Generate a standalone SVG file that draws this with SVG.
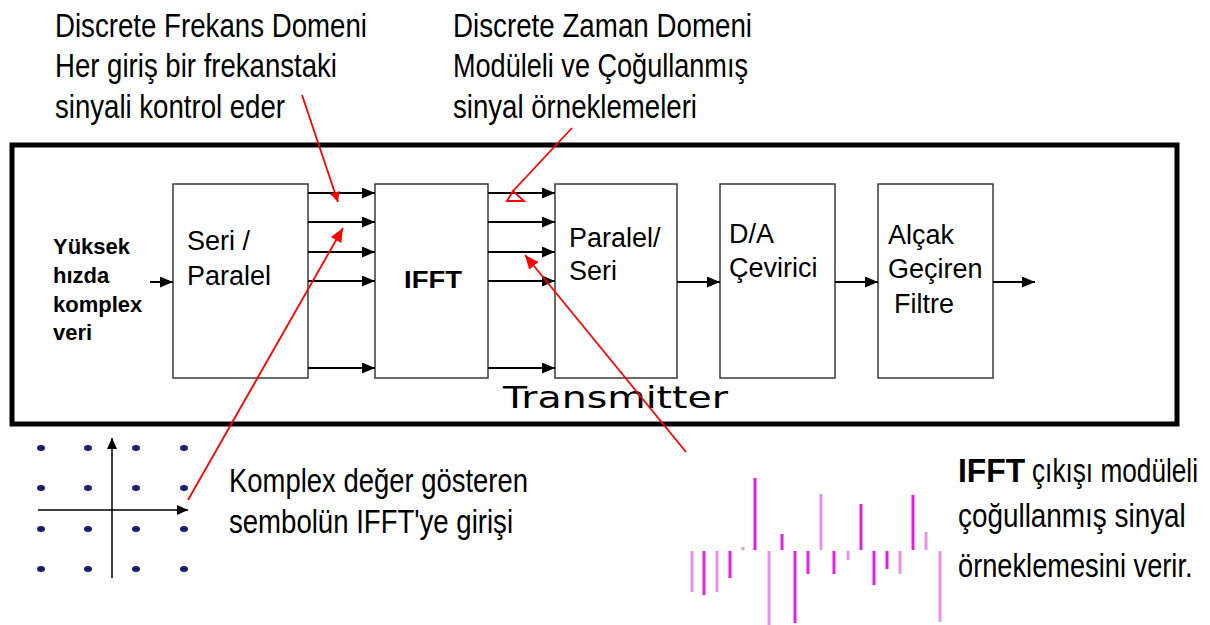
<svg xmlns="http://www.w3.org/2000/svg" width="1210" height="625" viewBox="0 0 1210 625">
<style>
  .frame{fill:none;stroke:#000;stroke-width:5}
  .box{fill:#fff;stroke:#3a3a3a;stroke-width:1.5}
  .lbl{font-family:"Liberation Sans",Arial,sans-serif;font-size:27px;fill:#000}
  .bold{font-weight:bold}
  .cap{font-family:"Liberation Sans",Arial,sans-serif;font-size:34px;fill:#000}
  .cap2{font-family:"Liberation Sans",Arial,sans-serif;font-size:33px;fill:#000}
  .in{font-family:"Liberation Sans",Arial,sans-serif;font-size:22px;font-weight:bold;fill:#000}
  .tx{font-family:"DejaVu Sans","Liberation Sans",sans-serif;font-size:31px;fill:#000}
  .wire{stroke:#000;stroke-width:2;fill:none;marker-end:url(#ah)}
  .axis{stroke:#000;stroke-width:1.5;fill:none;marker-end:url(#ahs)}
  .red{stroke:#f00;stroke-width:1.8;fill:none}
  .dot{fill:#1c1c6e}
  .m1{stroke:#e020e0;stroke-width:3}
  .m2{stroke:#e890e8;stroke-width:3}
</style>
<defs>
  <marker id="ah" markerUnits="userSpaceOnUse" markerWidth="13" markerHeight="11" refX="13" refY="5.5" orient="auto">
    <path d="M0,0 L13,5.5 L0,11 z" fill="#000"/>
  </marker>
  <marker id="ahs" markerUnits="userSpaceOnUse" markerWidth="11" markerHeight="10" refX="11" refY="5" orient="auto">
    <path d="M0,0 L11,5 L0,10 z" fill="#000"/>
  </marker>
  <marker id="ahr" markerUnits="userSpaceOnUse" markerWidth="14" markerHeight="12" refX="14" refY="6" orient="auto">
    <path d="M0,0 L14,6 L0,12 z" fill="#f00"/>
  </marker>
  <marker id="ahr2" markerUnits="userSpaceOnUse" markerWidth="10" markerHeight="10" refX="10" refY="5" orient="auto">
    <path d="M0,0 L10,5 L0,10 z" fill="#f00"/>
  </marker>
</defs>
<rect width="1210" height="625" fill="#fff"/>

<!-- annotation texts -->
<g id="note-freq">
  <text class="cap" x="55" y="37" textLength="312" lengthAdjust="spacingAndGlyphs">Discrete Frekans Domeni</text>
  <text class="cap" x="55" y="77" textLength="282" lengthAdjust="spacingAndGlyphs">Her giriş bir frekanstaki</text>
  <text class="cap" x="55" y="118" textLength="230" lengthAdjust="spacingAndGlyphs">sinyali kontrol eder</text>
</g>
<g id="note-time">
  <text class="cap" x="453" y="37" textLength="299" lengthAdjust="spacingAndGlyphs">Discrete Zaman Domeni</text>
  <text class="cap" x="453" y="77" textLength="295" lengthAdjust="spacingAndGlyphs">Modüleli ve Çoğullanmış</text>
  <text class="cap" x="453" y="118" textLength="244" lengthAdjust="spacingAndGlyphs">sinyal örneklemeleri</text>
</g>

<!-- transmitter frame -->
<g id="transmitter">
  <rect class="frame" x="12" y="145" width="1165" height="279"/>
  <text class="tx" x="503" y="408" textLength="225" lengthAdjust="spacingAndGlyphs">Transmitter</text>
</g>

<g id="input-label">
  <text class="in" x="53" y="254">Yüksek</text>
  <text class="in" x="53" y="283">hızda</text>
  <text class="in" x="53" y="312">komplex</text>
  <text class="in" x="53" y="340">veri</text>
</g>

<g id="seri-paralel">
  <rect class="box" x="173" y="184" width="135" height="194"/>
  <text class="lbl" x="187" y="250">Seri /</text>
  <text class="lbl" x="187" y="285">Paralel</text>
</g>
<g id="ifft">
  <rect class="box" x="375" y="184" width="113" height="194"/>
  <text class="lbl bold" x="404" y="288" style="font-size:23px" textLength="58" lengthAdjust="spacingAndGlyphs">IFFT</text>
</g>
<g id="paralel-seri">
  <rect class="box" x="555" y="184" width="122" height="194"/>
  <text class="lbl" x="569" y="247">Paralel/</text>
  <text class="lbl" x="569" y="280">Seri</text>
</g>
<g id="da">
  <rect class="box" x="720" y="184" width="115" height="194"/>
  <text class="lbl" x="729" y="243">D/A</text>
  <text class="lbl" x="729" y="277">Çevirici</text>
</g>
<g id="lpf">
  <rect class="box" x="878" y="184" width="115" height="194"/>
  <text class="lbl" x="888" y="244">Alçak</text>
  <text class="lbl" x="888" y="278">Geçiren</text>
  <text class="lbl" x="894" y="313">Filtre</text>
</g>

<g id="connectors">
  <line class="wire" x1="150" y1="282" x2="173" y2="282"/>
  <line class="wire" x1="308" y1="193" x2="375" y2="193"/>
  <line class="wire" x1="308" y1="222" x2="375" y2="222"/>
  <line class="wire" x1="308" y1="252" x2="375" y2="252"/>
  <line class="wire" x1="308" y1="281" x2="375" y2="281"/>
  <line class="wire" x1="308" y1="368" x2="375" y2="368"/>
  <line class="wire" x1="488" y1="193" x2="555" y2="193"/>
  <line class="wire" x1="488" y1="222" x2="555" y2="222"/>
  <line class="wire" x1="488" y1="252" x2="555" y2="252"/>
  <line class="wire" x1="488" y1="281" x2="555" y2="281"/>
  <line class="wire" x1="488" y1="368" x2="555" y2="368"/>
  <line class="wire" x1="677" y1="282" x2="720" y2="282"/>
  <line class="wire" x1="835" y1="282" x2="878" y2="282"/>
  <line class="wire" x1="993" y1="282" x2="1035" y2="282"/>
</g>

<!-- constellation -->
<g id="constellation">
  <line class="axis" x1="112" y1="578" x2="112" y2="438"/>
  <line class="axis" x1="38" y1="510" x2="188" y2="510"/>
  <g class="dot">
    <ellipse cx="41" cy="448" rx="4" ry="3"/><ellipse cx="88" cy="448" rx="4" ry="3"/><ellipse cx="136" cy="448" rx="4" ry="3"/><ellipse cx="184" cy="448" rx="4" ry="3"/>
    <ellipse cx="41" cy="488" rx="4" ry="3"/><ellipse cx="88" cy="488" rx="4" ry="3"/><ellipse cx="136" cy="488" rx="4" ry="3"/><ellipse cx="184" cy="488" rx="4" ry="3"/>
    <ellipse cx="41" cy="529" rx="4" ry="3"/><ellipse cx="88" cy="529" rx="4" ry="3"/><ellipse cx="136" cy="529" rx="4" ry="3"/><ellipse cx="184" cy="529" rx="4" ry="3"/>
    <ellipse cx="41" cy="569" rx="4" ry="3"/><ellipse cx="88" cy="569" rx="4" ry="3"/><ellipse cx="136" cy="569" rx="4" ry="3"/><ellipse cx="184" cy="569" rx="4" ry="3"/>
  </g>
</g>
<g id="note-constellation">
  <text class="cap" x="229" y="492" textLength="299" lengthAdjust="spacingAndGlyphs">Komplex değer gösteren</text>
  <text class="cap" x="229" y="533" textLength="284" lengthAdjust="spacingAndGlyphs">sembolün IFFT'ye girişi</text>
</g>

<!-- output samples -->
<g id="samples">
  <line class="m2" x1="692" y1="551" x2="692" y2="592"/>
  <line class="m1" x1="704" y1="551" x2="704" y2="595"/>
  <line class="m2" x1="717" y1="551" x2="717" y2="592"/>
  <line class="m1" x1="730" y1="551" x2="730" y2="578"/>
  <line class="m2" x1="743" y1="547" x2="743" y2="550"/>
  <line class="m1" x1="755" y1="478" x2="755" y2="550"/>
  <line class="m2" x1="769" y1="551" x2="769" y2="625"/>
  <line class="m1" x1="782" y1="534" x2="782" y2="550"/>
  <line class="m1" x1="795" y1="551" x2="795" y2="623"/>
  <line class="m1" x1="808" y1="551" x2="808" y2="574"/>
  <line class="m2" x1="821" y1="494" x2="821" y2="550"/>
  <line class="m1" x1="834" y1="551" x2="834" y2="574"/>
  <line class="m2" x1="848" y1="551" x2="848" y2="560"/>
  <line class="m1" x1="861" y1="504" x2="861" y2="550"/>
  <line class="m1" x1="874" y1="551" x2="874" y2="585"/>
  <line class="m1" x1="887" y1="551" x2="887" y2="569"/>
  <line class="m2" x1="900" y1="551" x2="900" y2="574"/>
  <line class="m1" x1="913" y1="495" x2="913" y2="550"/>
  <line class="m2" x1="926" y1="532" x2="926" y2="550"/>
  <line class="m2" x1="940" y1="551" x2="940" y2="622"/>
</g>
<g id="note-samples">
  <text class="cap2 bold" transform="translate(958,482) scale(0.96,1)" x="0" y="0" textLength="70" lengthAdjust="spacingAndGlyphs">IFFT</text>
  <text class="cap2" transform="translate(1032,482) scale(0.83,1)" x="0" y="0" textLength="200" lengthAdjust="spacingAndGlyphs">çıkışı modüleli</text>
  <text class="cap2" transform="translate(958,527) scale(0.863,1)" x="0" y="0" textLength="264" lengthAdjust="spacingAndGlyphs">çoğullanmış sinyal</text>
  <text class="cap2" transform="translate(958,577) scale(0.82,1)" x="0" y="0" textLength="286" lengthAdjust="spacingAndGlyphs">örneklemesini verir.</text>
</g>

<!-- red annotation pointers -->
<g id="pointers">
  <line class="red" x1="302" y1="95" x2="338" y2="202" marker-end="url(#ahr2)"/>
  <line class="red" x1="188" y1="500" x2="343" y2="228" marker-end="url(#ahr)"/>
  <line class="red" x1="572" y1="128" x2="513" y2="191"/>
  <polygon class="red" points="513,191 507,201 524,201"/>
  <line class="red" x1="686" y1="452" x2="525" y2="255" marker-end="url(#ahr)"/>
</g>
</svg>
